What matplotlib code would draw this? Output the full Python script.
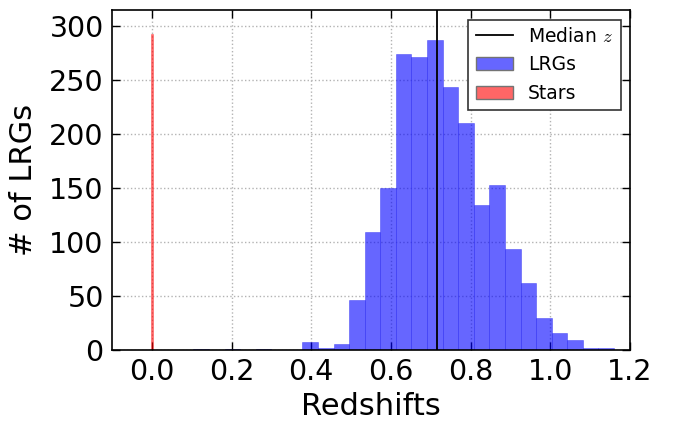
import numpy as np
import matplotlib
matplotlib.use("Agg")
import matplotlib.pyplot as plt
from matplotlib.patches import Patch
from matplotlib.lines import Line2D

# LRG redshift histogram: 30 bins between z_min and z_max, counts
lrg_z_min, lrg_z_max = -0.013, 1.160
lrg_counts = [0, 0, 0, 1, 0, 1, 0, 1, 0, 0,
              7, 2, 6, 46, 109, 150, 274, 272, 287, 244,
              210, 134, 153, 94, 62, 30, 16, 9, 2, 2]

# stars all sit at z ~ 0 in one narrow bin
star_edges = [-0.002, 0.002]
star_counts = [293]

median_z = 0.716

plt.rcParams["font.family"] = "DejaVu Sans"
plt.rcParams["mathtext.fontset"] = "cm"
plt.rcParams["xtick.direction"] = "in"
plt.rcParams["ytick.direction"] = "in"
plt.rcParams["xtick.top"] = True
plt.rcParams["ytick.right"] = True
plt.rcParams["xtick.major.size"] = 6
plt.rcParams["ytick.major.size"] = 6

lrg_edges = np.linspace(lrg_z_min, lrg_z_max, len(lrg_counts) + 1)
lrg_centers = 0.5 * (lrg_edges[:-1] + lrg_edges[1:])
star_centers = 0.5 * (np.array(star_edges[:-1]) + np.array(star_edges[1:]))

fig = plt.figure(figsize=(6.73, 4.24), dpi=100)
ax = fig.add_axes([0.1664, 0.1745, 0.936 - 0.1664, 0.976 - 0.1745])

ax.hist(lrg_centers, bins=lrg_edges, weights=lrg_counts,
        color=(0.0, 0.0, 1.0), alpha=0.6, edgecolor=(0.2, 0.2, 0.95), lw=0.5)
ax.hist(star_centers, bins=star_edges, weights=star_counts,
        color=(1.0, 0.0, 0.0), alpha=0.6, lw=0.6, edgecolor=(1.0, 0.3, 0.3))
ax.axvline(median_z, color="k", lw=1.3)

ax.set_xlim(-0.1, 1.2)
ax.set_ylim(0, 315)
ax.set_xticks(np.arange(0.0, 1.21, 0.2))
ax.set_yticks(np.arange(0, 301, 50))
ax.tick_params(labelsize=20.5, width=1, pad=6)
ax.set_xlabel("Redshifts", fontsize=22)
ax.set_ylabel("# of LRGs", fontsize=22, labelpad=8)
ax.grid(True, ls=":", color="0.7", lw=1)
ax.set_axisbelow(True)
for sp in ax.spines.values():
    sp.set_linewidth(1.2)

handles = [
    Line2D([], [], color="k", lw=1.3),
    Patch(facecolor=(0.4, 0.4, 1.0), edgecolor="0.45", lw=1.0),
    Patch(facecolor=(1.0, 0.4, 0.4), edgecolor="0.45", lw=1.0),
]
leg = ax.legend(handles, [r"Median $z$", "LRGs", "Stars"], loc="upper right",
                fontsize=13.5, fancybox=False, framealpha=1.0)
leg.get_frame().set_edgecolor("0.2")
leg.get_frame().set_linewidth(1.2)

fig.savefig("out.png", dpi=100)
